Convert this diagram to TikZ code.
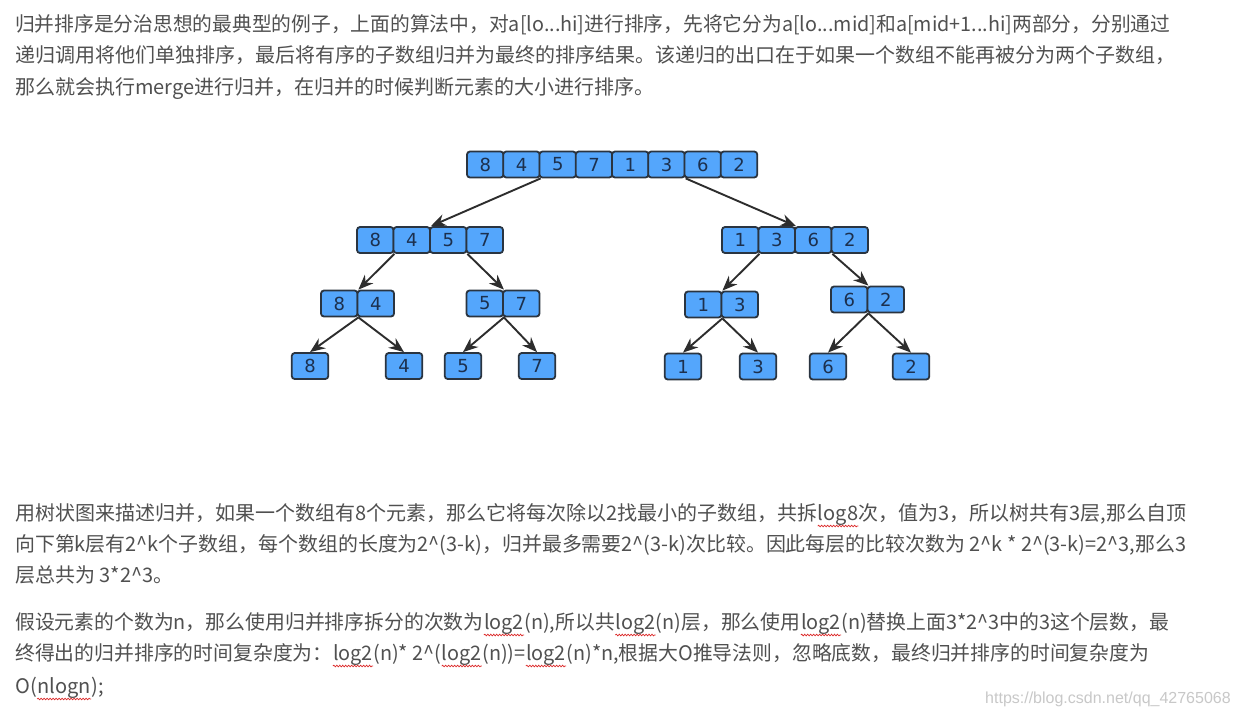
\documentclass[tikz,border=0pt]{standalone}
\usepackage{fontspec}
\usepackage{graphicx}
\setmainfont{Noto Sans CJK SC}
\newfontfamily\digitfont{DejaVu Sans}
\newfontfamily\wmfont{Liberation Sans}
\usetikzlibrary{arrows.meta,decorations.pathmorphing}
\definecolor{txt}{RGB}{80,80,80}
\definecolor{boxfill}{RGB}{84,166,252}
\definecolor{boxline}{RGB}{42,52,64}
\definecolor{digit}{RGB}{28,48,78}
\definecolor{arrowc}{RGB}{45,45,45}
\definecolor{wavered}{RGB}{220,40,40}
\definecolor{wm}{RGB}{200,200,200}
\newcommand\rw[1]{\tikz[baseline=(wv.base)]{\node[inner sep=0pt,anchor=base] (wv) at (0,0) {#1};
  \draw[wavered, line width=0.7pt, decorate, decoration={snake, amplitude=0.8pt, segment length=3pt}]
    ([yshift=-6pt]wv.base west) -- ([yshift=-6pt]wv.base east);}}
\newcommand\ca{\textasciicircum}
% squeeze a line to a given width, keeping its height
\newcommand\fitw[2]{\resizebox{#1pt}{\height}{#2}}
\begin{document}
\begin{tikzpicture}[x=1pt,y=-1pt,
  cell/.style={draw=boxline, fill=boxfill, line width=1.8pt, rounded corners=3pt,
    minimum width=36.5pt, minimum height=26pt, inner sep=0pt,
    font=\digitfont\fontsize{18}{18}\selectfont, text=digit},
  arr/.style={draw=arrowc, line width=1.9pt, -{Stealth[length=15pt,width=12pt]}},
  para/.style={anchor=base west, inner sep=0pt, font=\fontsize{20}{24}\selectfont, text=txt}]
\fill[white] (0,0) rectangle (1238,716);
\useasboundingbox (0,0) rectangle (1238,716);

% text paragraphs
\node[para] (p1a) at (15,31) {\fitw{1155}{归并排序是分治思想的最典型的例子，上面的算法中，对a[lo...hi]进行排序，先将它分为a[lo...mid]和a[mid+1...hi]两部分，分别通过}};
\node[para] (p1b) at (15,62) {递归调用将他们单独排序，最后将有序的子数组归并为最终的排序结果。该递归的出口在于如果一个数组不能再被分为两个子数组，};
\node[para] (p1c) at (15,94) {那么就会执行merge进行归并，在归并的时候判断元素的大小进行排序。};

\node[para] (p2a) at (15,520) {用树状图来描述归并，如果一个数组有8个元素，那么它将每次除以2找最小的子数组，共拆\rw{log8}次，值为3，所以树共有3层,那么自顶};
\node[para] (p2b) at (15,551) {\fitw{1171}{向下第k层有2\ca k个子数组，每个数组的长度为2\ca(3-k)，归并最多需要2\ca(3-k)次比较。因此每层的比较次数为 2\ca k * 2\ca(3-k)=2\ca3,那么3}};
\node[para] (p2c) at (15,582) {层总共为 3*2\ca3。};

\node[para] (p3a) at (15,629) {\fitw{1154}{假设元素的个数为n，那么使用归并排序拆分的次数为\rw{log2}(n),所以共\rw{log2}(n)层，那么使用\rw{log2}(n)替换上面3*2\ca3中的3这个层数，最}};
\node[para] (p3b) at (15,660) {\fitw{1134}{终得出的归并排序的时间复杂度为：\rw{log2}(n)* 2\ca(\rw{log2}(n))=\rw{log2}(n)*n,根据大O推导法则，忽略底数，最终归并排序的时间复杂度为}};
\node[para] (p3c) at (15,693) {O(\rw{nlogn});};

\node[anchor=base west, inner sep=0pt, font=\wmfont\fontsize{16}{16}\selectfont, text=wm] (wmk) at (985,703) {https://blog.csdn.net/qq\_42765068};

% tree cells
\foreach \v [count=\i] in {8,4,5,7,1,3,6,2}
  \node[cell] (t\i) at ({467+18.25+36.25*(\i-1)},164.5) {\v};
\foreach \v [count=\i] in {8,4,5,7}
  \node[cell] (a\i) at ({357+18.25+36.5*(\i-1)},240) {\v};
\foreach \v [count=\i] in {1,3,6,2}
  \node[cell] (b\i) at ({722+18.25+36.5*(\i-1)},240) {\v};
\foreach \v [count=\i] in {8,4}
  \node[cell] (c\i) at ({321+18.25+36.5*(\i-1)},303.5) {\v};
\foreach \v [count=\i] in {5,7}
  \node[cell] (d\i) at ({466.5+18.25+36.5*(\i-1)},303.5) {\v};
\foreach \v [count=\i] in {1,3}
  \node[cell] (e\i) at ({685+18.25+36.5*(\i-1)},304.5) {\v};
\foreach \v [count=\i] in {6,2}
  \node[cell] (f\i) at ({831+18.25+36.5*(\i-1)},299.5) {\v};

\node[cell] (l1) at (310,366) {8};
\node[cell] (l2) at (404,366) {4};
\node[cell] (l3) at (463,366) {5};
\node[cell] (l4) at (537,366) {7};
\node[cell] (l5) at (683,366.5) {1};
\node[cell] (l6) at (758,366.5) {3};
\node[cell] (l7) at (828,366.5) {6};
\node[cell] (l8) at (911,366.5) {2};

% arrows
\draw[arr] (t2.south east) -- (a2.north east);
\draw[arr] (t6.south east) -- (b2.north east);
\draw[arr] (a1.south east) -- (c1.north east);
\draw[arr] (a3.south east) -- (d1.north east);
\draw[arr] (b1.south east) -- (e1.north east);
\draw[arr] (b3.south east) -- (f1.north east);
\draw[arr] (c1.south east) -- (l1.north);
\draw[arr] (c1.south east) -- (l2.north);
\draw[arr] (d1.south east) -- (l3.north);
\draw[arr] (d1.south east) -- (l4.north);
\draw[arr] (e1.south east) -- (l5.north);
\draw[arr] (e1.south east) -- (l6.north);
\draw[arr] (f1.south east) -- (l7.north);
\draw[arr] (f1.south east) -- (l8.north);
\end{tikzpicture}
\end{document}
